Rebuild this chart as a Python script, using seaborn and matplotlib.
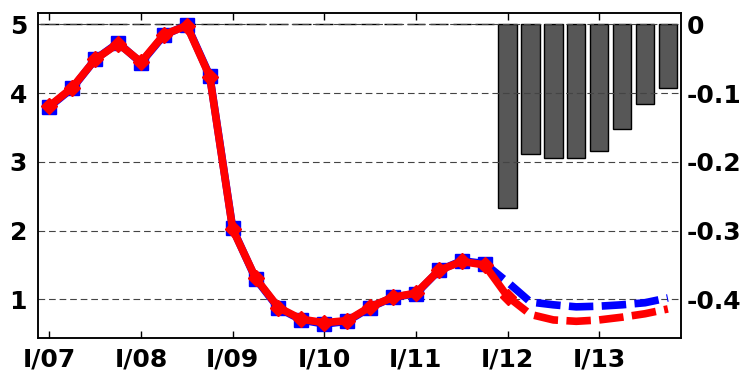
import numpy as np
import pandas as pd
import matplotlib
matplotlib.use('Agg')
import matplotlib.pyplot as plt
import seaborn as sns

# quarters I/07 .. IV/13 as positions 0..27
quarters = list(range(28))
tick_pos = [0, 4, 8, 12, 16, 20, 24]
tick_labels = ['I/07', 'I/08', 'I/09', 'I/10', 'I/11', 'I/12', 'I/13']

# red series (solid up to I/12, dashed after)
red_vals = [3.81, 4.08, 4.49, 4.72, 4.45, 4.85, 4.98, 4.24,
            2.02, 1.31, 0.88, 0.71, 0.66, 0.69, 0.89, 1.03,
            1.09, 1.42, 1.55, 1.50, 1.04, 0.78, 0.70, 0.68,
            0.70, 0.74, 0.79, 0.86]
# blue series (solid up to IV/11, dashed after)
blue_vals = [3.80, 4.07, 4.49, 4.73, 4.44, 4.84, 4.99, 4.25,
             2.03, 1.30, 0.87, 0.70, 0.64, 0.68, 0.88, 1.03,
             1.08, 1.42, 1.56, 1.52, 1.25, 0.96, 0.92, 0.89,
             0.90, 0.92, 0.95, 1.02]
# difference bars, right axis
bar_vals = [0.0] * 20 + [-0.267, -0.189, -0.195, -0.195, -0.184, -0.153, -0.116, -0.092]

right_ticks = [0, -0.1, -0.2, -0.3, -0.4]
right_labels = ['0', '-0.1', '-0.2', '-0.3', '-0.4']

df = pd.DataFrame({'q': quarters, 'red': red_vals, 'blue': blue_vals, 'diff': bar_vals})

sns.set_style('white')
plt.rcParams['font.family'] = ['DejaVu Sans']
plt.rcParams['font.weight'] = 'bold'

fig = plt.figure(figsize=(7.43, 3.74), dpi=100)
ax = fig.add_axes([0.0505, 0.0955, 0.866, 0.869])
ax2 = ax.twinx()

# bars on the right axis
sns.barplot(data=df, x='q', y='diff', ax=ax2, color='#575757', edgecolor='black',
            linewidth=1, saturation=1, width=0.8)

dash = (0, (3.2, 1.1))
# blue line
sns.lineplot(data=df.iloc[:20], x='q', y='blue', ax=ax, color='blue', linewidth=5.5,
             marker='s', markersize=10, markeredgecolor='blue', markeredgewidth=1)
sns.lineplot(data=df.iloc[19:], x='q', y='blue', ax=ax, color='blue', linewidth=5.5,
             linestyle=dash)
# red line
sns.lineplot(data=df.iloc[:21], x='q', y='red', ax=ax, color='red', linewidth=5.5,
             marker='D', markersize=8.5, markeredgecolor='red', markeredgewidth=1)
sns.lineplot(data=df.iloc[20:], x='q', y='red', ax=ax, color='red', linewidth=5.5,
             linestyle=dash)

ax.set_zorder(ax2.get_zorder() + 1)
ax.patch.set_visible(False)

ax.set_xlim(-0.52, 27.57)
ax.set_ylim(0.433, 5.16)
ax2.set_ylim(-0.4567, 0.016)

ax.set_xticks(tick_pos, tick_labels)
ax.set_yticks([1, 2, 3, 4, 5], ['1', '2', '3', '4', '5'])
ax2.set_yticks(right_ticks, right_labels)

ax2.set_axisbelow('line')
ax2.grid(axis='y', color='#444444', linestyle=(0, (6, 3.5)), linewidth=0.8)
ax.grid(False)

ax.tick_params(axis='x', direction='in', top=True, bottom=True, length=5, width=1,
               pad=6.5, labelsize=18, color='black', labelcolor='black')
ax.tick_params(axis='y', length=0, pad=7.5, labelsize=18, labelcolor='black')
ax2.tick_params(axis='y', length=0, pad=4, labelsize=18, labelcolor='black')

for a in (ax, ax2):
    for s in a.spines.values():
        s.set_color('black')
        s.set_linewidth(1.1)
    a.set_xlabel('')
    a.set_ylabel('')

fig.savefig('out.png', dpi=100)
